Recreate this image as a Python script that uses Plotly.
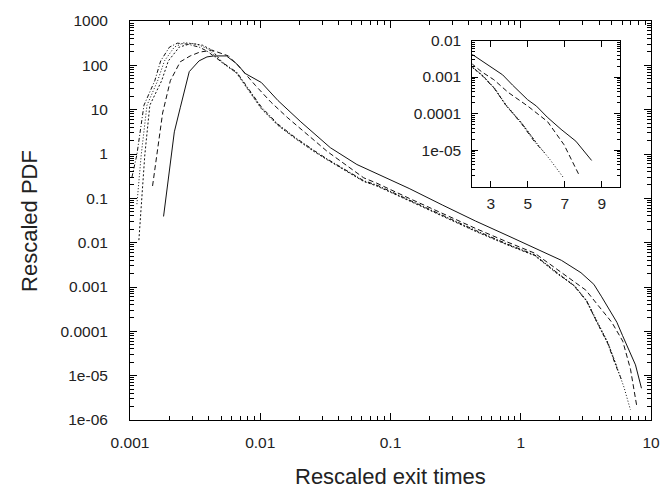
import plotly.graph_objects as go

# ---------------- data ----------------
solid_x = [0.00181, 0.00205, 0.00219, 0.00243, 0.00285, 0.00339, 0.0039, 0.0044, 0.0055, 0.0066,
           0.0077, 0.0102, 0.0137, 0.0205, 0.0345, 0.0552, 0.0784, 0.139, 0.252, 0.449,
           0.798, 1.44, 2.05, 2.9, 3.64, 4.18, 4.99, 5.47, 6.05, 6.8,
           7.6, 8.45]
solid_y = [0.039, 0.755, 3.16, 11, 72, 126, 155, 163, 163, 108,
           65, 41, 16, 5.3, 1.39, 0.58, 0.36, 0.167, 0.07, 0.0308,
           0.0143, 0.0063, 0.004, 0.0021, 0.00115, 0.0006, 0.00024, 0.00016, 0.00008, 0.000037,
           0.0000175, 0.0000052]

dashed_x = [0.00149, 0.00178, 0.00204, 0.00243, 0.0029, 0.00345, 0.0039, 0.00425, 0.0057, 0.0068,
            0.0092, 0.0121, 0.0163, 0.0231, 0.0327, 0.0623, 0.0784, 0.139, 0.252, 0.449,
            0.798, 1.28, 1.9, 2.5, 3.16, 3.94, 5.0, 6.07, 6.96, 7.81]
dashed_y = [0.19, 8.4, 45, 120, 163, 200, 210, 221, 163, 97,
            35, 14.7, 6.5, 2.7, 1.14, 0.29, 0.22, 0.1, 0.045, 0.021,
            0.0102, 0.0058, 0.0025, 0.0014, 0.00085, 0.00038, 0.00016, 0.00006, 0.000014, 0.0000019]

dashdot_x = [0.001035, 0.00113, 0.00128, 0.00155, 0.00172, 0.00201, 0.00231, 0.00275, 0.00339, 0.0039,
             0.00507, 0.0066, 0.0077, 0.0102, 0.0137, 0.0184, 0.0261, 0.0327, 0.0623, 0.0784,
             0.139, 0.252, 0.449, 0.798, 1.28, 1.9, 2.57, 3.2, 3.8, 4.67,
             5.36, 5.9]
dashdot_y = [0.30, 0.97, 12.6, 45, 126, 258, 316, 301, 258, 210,
             118, 70, 37, 11.5, 4.7, 2.4, 1.18, 0.77, 0.25, 0.2,
             0.092, 0.041, 0.019, 0.0092, 0.0053, 0.0021, 0.00105, 0.00048, 0.000175, 0.000052,
             0.000017, 0.0000085]

dotted_x = [0.00113, 0.00122, 0.00135, 0.00163, 0.00184, 0.00219, 0.0026, 0.00327, 0.004, 0.00507,
            0.0066, 0.0077, 0.0102, 0.0137, 0.0184, 0.0261, 0.0327, 0.0623, 0.0784, 0.139,
            0.252, 0.449, 0.798, 1.28, 1.9, 2.57, 3.2, 3.8, 4.67, 5.36,
            6.2, 6.95]
dotted_y = [0.074, 0.97, 12.6, 45, 126, 258, 325, 301, 232, 114,
            68, 35, 10.8, 4.5, 2.33, 1.14, 0.755, 0.245, 0.195, 0.09,
            0.04, 0.0185, 0.009, 0.0052, 0.0021, 0.0011, 0.0005, 0.00018, 0.000056, 0.0000185,
            0.0000055, 0.0000017]

dotted2_x = [0.00117, 0.00122, 0.0013, 0.00142, 0.00175, 0.00197, 0.00239, 0.00295, 0.0036, 0.00425,
             0.00507, 0.0066, 0.0077, 0.0102, 0.0137, 0.0184, 0.0261, 0.0327, 0.0623, 0.0784,
             0.139, 0.252, 0.449, 0.798, 1.28, 1.9, 2.57, 3.2, 3.8, 4.67,
             5.5]
dotted2_y = [0.0114, 0.074, 0.97, 12.6, 45, 126, 258, 310, 285, 221,
             120, 66, 34, 10.5, 4.4, 2.28, 1.12, 0.74, 0.24, 0.19,
             0.088, 0.039, 0.018, 0.0088, 0.0051, 0.002, 0.00108, 0.00049, 0.00017, 0.000054,
             0.000015]

main_y_ticks = [1e-6, 1e-5, 1e-4, 1e-3, 1e-2, 1e-1, 1, 10, 100, 1000]
main_y_labels = ["1e-06", "1e-05", "0.0001", "0.001", "0.01", "0.1", "1", "10", "100", "1000"]
main_x_ticks = [0.001, 0.01, 0.1, 1, 10]
main_x_labels = ["0.001", "0.01", "0.1", "1", "10"]
inset_x_ticks = [3, 5, 7, 9]
inset_x_labels = ["3", "5", "7", "9"]
inset_y_ticks = [1e-5, 1e-4, 1e-3, 1e-2]
inset_y_labels = ["1e-05", "0.0001", "0.001", "0.01"]

series = [
    (solid_x, solid_y, "solid"),
    (dashed_x, dashed_y, "5px,3px"),
    (dashdot_x, dashdot_y, "4px,2px,1px,2px"),
    (dotted_x, dotted_y, "1px,2px"),
    (dotted2_x, dotted2_y, "2px,2px"),
]

# ---------------- figure ----------------
fig = go.Figure()
for xs, ys, dash in series:
    fig.add_trace(go.Scatter(x=xs, y=ys, mode="lines", xaxis="x", yaxis="y",
                             line=dict(color="#111111", width=1, dash=dash),
                             showlegend=False, hoverinfo="skip"))
for xs, ys, dash in series:
    fig.add_trace(go.Scatter(x=xs, y=ys, mode="lines", xaxis="x2", yaxis="y2",
                             line=dict(color="#111111", width=1, dash=dash),
                             showlegend=False, hoverinfo="skip"))


def log_minor(lo, hi):
    vals = []
    for e in range(lo, hi):
        for m in range(2, 10):
            vals.append(m * 10.0 ** e)
    return vals


FAM = "Liberation Sans, Arial, sans-serif"
font = dict(family=FAM, size=15.5, color="#222222")
title_font = dict(family=FAM, size=22, color="#222222")
axis_common = dict(showline=True, linecolor="black", linewidth=1, mirror="allticks",
                   ticks="inside", tickcolor="black", showgrid=False, zeroline=False,
                   tickfont=font)

fig.update_layout(
    width=672, height=492,
    margin=dict(l=130, r=14, t=15, b=72),
    paper_bgcolor="white", plot_bgcolor="white",
    font=font,
    xaxis=dict(type="log", range=[-3, 1], tickmode="array", tickvals=main_x_ticks,
               ticktext=main_x_labels, ticklen=7, ticklabelstandoff=8,
               minor=dict(tickmode="array", tickvals=log_minor(-3, 1), ticks="inside",
                          ticklen=4, tickcolor="black", showgrid=False),
               domain=[0, 1], anchor="y", **axis_common),
    yaxis=dict(type="log", range=[-6, 3], tickmode="array", tickvals=main_y_ticks,
               ticktext=main_y_labels, ticklen=7, ticklabelstandoff=18,
               minor=dict(tickmode="array", tickvals=log_minor(-6, 3), ticks="inside",
                          ticklen=4, tickcolor="black", showgrid=False),
               domain=[0, 1], anchor="x", **axis_common),
    xaxis2=dict(type="linear", range=[2, 10], tickmode="array", tickvals=inset_x_ticks,
                ticktext=inset_x_labels, ticklen=6, ticklabelstandoff=3,
                domain=[0.657, 0.941], anchor="y2", **axis_common),
    yaxis2=dict(type="log", range=[-6, -2], tickmode="array", tickvals=inset_y_ticks,
                ticktext=inset_y_labels, ticklen=6, ticklabelstandoff=7,
                minor=dict(tickmode="array", tickvals=log_minor(-6, -2), ticks="inside",
                           ticklen=3, tickcolor="black", showgrid=False),
                domain=[0.585, 0.951], anchor="x2", **axis_common),
    shapes=[dict(type="rect", xref="paper", yref="paper", x0=0.657, x1=0.941,
                 y0=0.585, y1=0.951, fillcolor="white", line=dict(width=0), layer="below")],
    annotations=[
        dict(text="Rescaled PDF", xref="paper", yref="paper", x=-0.193, y=0.5,
             textangle=-90, showarrow=False, font=title_font,
             xanchor="center", yanchor="middle"),
        dict(text="Rescaled exit times", xref="paper", yref="paper", x=0.5, y=-0.141,
             showarrow=False, font=title_font,
             xanchor="center", yanchor="middle"),
    ],
)

fig.write_html("out.html")
